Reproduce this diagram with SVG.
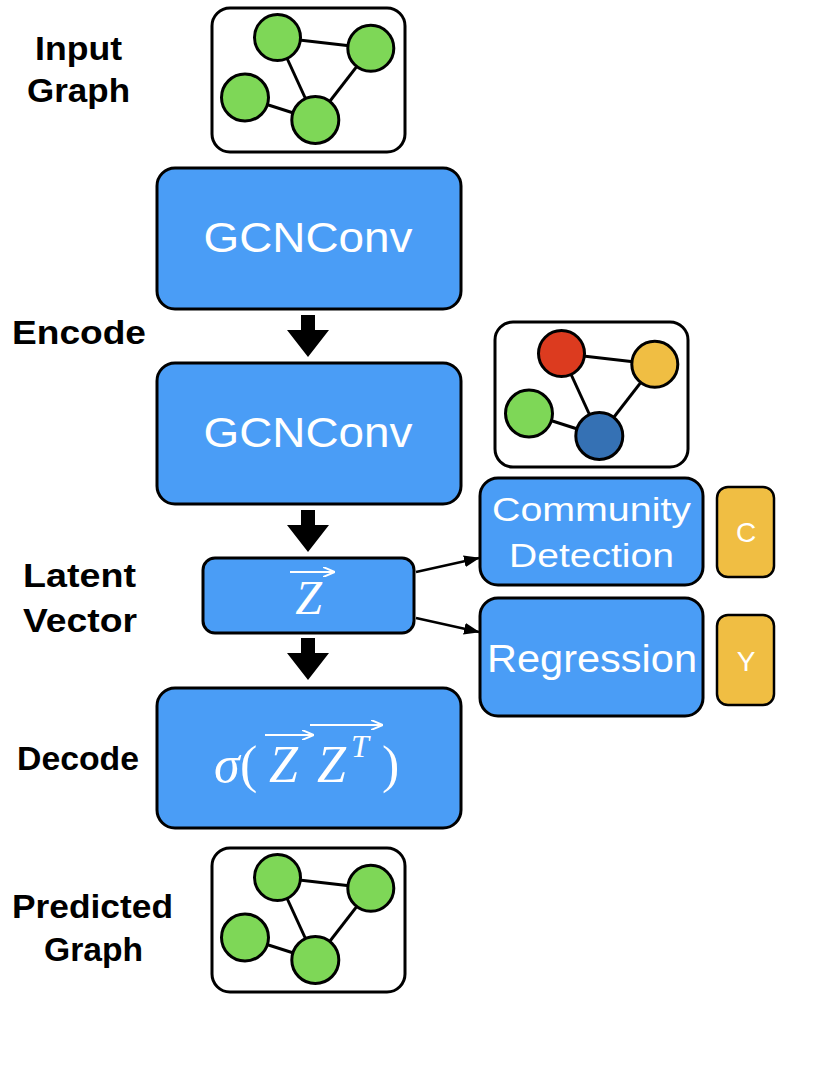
<svg xmlns="http://www.w3.org/2000/svg" width="823" height="1080" viewBox="0 0 823 1080">
<style>
.frame{fill:#fff;stroke:#000;stroke-width:3}
.edge{stroke:#000;stroke-width:3}
.nd{stroke:#000;stroke-width:3}
.g{fill:#7ED757}
.r{fill:#DC3B1F}
.y{fill:#F0BE43}
.b{fill:#3571B4}
.blk{fill:#4A9DF6;stroke:#000;stroke-width:3}
.out{fill:#F0BE43;stroke:#000;stroke-width:2.5}
.lbl{font-family:"Liberation Sans",Arial,sans-serif;font-weight:bold;font-size:33px;fill:#000;text-anchor:middle}
.wt{font-family:"Liberation Sans",Arial,sans-serif;fill:#fff;text-anchor:middle}
.math{font-family:"Liberation Serif","Times New Roman",serif;font-style:italic;fill:#fff}
.vec{stroke:#fff;stroke-width:2.2;fill:none}
.thin{stroke:#000;stroke-width:2.5;fill:none}
</style>
<defs>
<marker id="ah" markerWidth="16" markerHeight="12" refX="15" refY="6" orient="auto" markerUnits="userSpaceOnUse" viewBox="0 0 16 12">
<path d="M0,0 L16,6 L0,12 Z" fill="#000"/>
</marker>
<marker id="wah" markerWidth="12" markerHeight="10" refX="11" refY="5" orient="auto" markerUnits="userSpaceOnUse" viewBox="0 0 12 10">
<path d="M0,0 L12,5 L0,10" fill="none" stroke="#fff" stroke-width="2"/>
</marker>
</defs>

<!-- left labels -->
<g id="labels">
<text class="lbl" x="78.5" y="60" textLength="87" lengthAdjust="spacingAndGlyphs">Input</text>
<text class="lbl" x="78.5" y="102" textLength="103" lengthAdjust="spacingAndGlyphs">Graph</text>
<text class="lbl" x="79" y="344" textLength="134" lengthAdjust="spacingAndGlyphs">Encode</text>
<text class="lbl" x="79.5" y="587" textLength="113" lengthAdjust="spacingAndGlyphs">Latent</text>
<text class="lbl" x="80" y="632" textLength="114" lengthAdjust="spacingAndGlyphs">Vector</text>
<text class="lbl" x="78" y="770" textLength="122" lengthAdjust="spacingAndGlyphs">Decode</text>
<text class="lbl" x="92.5" y="918" textLength="161" lengthAdjust="spacingAndGlyphs">Predicted</text>
<text class="lbl" x="93.5" y="961" textLength="99" lengthAdjust="spacingAndGlyphs">Graph</text>
</g>

<!-- input graph -->
<g id="input-graph">
<rect class="frame" x="212" y="8" width="193" height="144" rx="18"/>
<line class="edge" x1="277.5" y1="37.5" x2="370.8" y2="48.3"/>
<line class="edge" x1="277.5" y1="37.5" x2="315.3" y2="120"/>
<line class="edge" x1="370.8" y1="48.3" x2="315.3" y2="120"/>
<line class="edge" x1="245" y1="97.5" x2="315.3" y2="120"/>
<circle class="nd g" cx="277.5" cy="37.5" r="23"/>
<circle class="nd g" cx="370.8" cy="48.3" r="23"/>
<circle class="nd g" cx="245" cy="97.5" r="23.5"/>
<circle class="nd g" cx="315.3" cy="120" r="23.5"/>
</g>

<!-- GCNConv 1 -->
<g id="gcnconv1">
<rect class="blk" x="157" y="168" width="304" height="141" rx="18"/>
<text class="wt" x="308" y="252" font-size="42" textLength="209" lengthAdjust="spacingAndGlyphs">GCNConv</text>
</g>

<!-- GCNConv 2 -->
<g id="gcnconv2">
<rect class="blk" x="157" y="363" width="304" height="141" rx="18"/>
<text class="wt" x="308" y="447" font-size="42" textLength="209" lengthAdjust="spacingAndGlyphs">GCNConv</text>
</g>

<!-- latent -->
<g id="latent">
<rect class="blk" x="203" y="558" width="211" height="75" rx="12"/>
<text class="math" x="308.5" y="614" font-size="48" text-anchor="middle">Z</text>
<line class="vec" x1="290" y1="572" x2="334" y2="572" marker-end="url(#wah)"/>
</g>

<!-- decode -->
<g id="decode">
<rect class="blk" x="157" y="688" width="304" height="140" rx="18"/>
<text class="math" x="214" y="782" font-size="52">σ</text>
<text x="240" y="782" font-size="52" font-family="Liberation Serif,Times New Roman,serif" fill="#fff">(</text>
<text class="math" x="269" y="782" font-size="52">Z</text>
<text class="math" x="317" y="782" font-size="52">Z</text>
<text class="math" x="351" y="757" font-size="32">T</text>
<text x="382" y="782" font-size="52" font-family="Liberation Serif,Times New Roman,serif" fill="#fff">)</text>
<line class="vec" x1="265" y1="735" x2="313" y2="735" marker-end="url(#wah)"/>
<line class="vec" x1="310" y1="725" x2="382" y2="725" marker-end="url(#wah)"/>
</g>

<!-- predicted graph -->
<g id="predicted-graph">
<rect class="frame" x="212" y="848" width="193" height="144" rx="18"/>
<line class="edge" x1="277.5" y1="877.5" x2="370.8" y2="888.3"/>
<line class="edge" x1="277.5" y1="877.5" x2="315.3" y2="960"/>
<line class="edge" x1="370.8" y1="888.3" x2="315.3" y2="960"/>
<line class="edge" x1="245" y1="937.5" x2="315.3" y2="960"/>
<circle class="nd g" cx="277.5" cy="877.5" r="23"/>
<circle class="nd g" cx="370.8" cy="888.3" r="23"/>
<circle class="nd g" cx="245" cy="937.5" r="23.5"/>
<circle class="nd g" cx="315.3" cy="960" r="23.5"/>
</g>

<!-- community graph -->
<g id="community-graph">
<rect class="frame" x="495" y="322" width="193" height="145" rx="18"/>
<line class="edge" x1="561.5" y1="353.5" x2="654.8" y2="364.3"/>
<line class="edge" x1="561.5" y1="353.5" x2="599.3" y2="436"/>
<line class="edge" x1="654.8" y1="364.3" x2="599.3" y2="436"/>
<line class="edge" x1="529" y1="413.5" x2="599.3" y2="436"/>
<circle class="nd r" cx="561.5" cy="353.5" r="23"/>
<circle class="nd y" cx="654.8" cy="364.3" r="23"/>
<circle class="nd g" cx="529" cy="413.5" r="23.5"/>
<circle class="nd b" cx="599.3" cy="436" r="23.5"/>
</g>

<!-- community detection -->
<g id="community">
<rect class="blk" x="480" y="478" width="223" height="107" rx="18"/>
<text class="wt" x="591.5" y="521" font-size="33" textLength="199" lengthAdjust="spacingAndGlyphs">Community</text>
<text class="wt" x="591.5" y="567" font-size="33" textLength="165" lengthAdjust="spacingAndGlyphs">Detection</text>
</g>

<!-- regression -->
<g id="regression">
<rect class="blk" x="480" y="598" width="223" height="118" rx="18"/>
<text class="wt" x="592" y="672" font-size="38" textLength="210" lengthAdjust="spacingAndGlyphs">Regression</text>
</g>

<!-- outputs -->
<g id="out-c">
<rect class="out" x="717" y="487" width="57" height="90" rx="11"/>
<text class="wt" x="746" y="542" font-size="28">C</text>
</g>
<g id="out-y">
<rect class="out" x="717" y="615" width="57" height="90" rx="11"/>
<text class="wt" x="746" y="671" font-size="28">Y</text>
</g>

<!-- connectors -->
<g id="connectors">
<path d="M301,315 H315 V330 H329 L308,357 L287,330 H301 Z" fill="#000"/>
<path d="M301,510 H315 V525 H329 L308,552 L287,525 H301 Z" fill="#000"/>
<path d="M301,638 H315 V653 H329 L308,680 L287,653 H301 Z" fill="#000"/>
<line class="thin" x1="416" y1="572" x2="479" y2="558" marker-end="url(#ah)"/>
<line class="thin" x1="416" y1="618" x2="479" y2="632" marker-end="url(#ah)"/>
</g>
</svg>
